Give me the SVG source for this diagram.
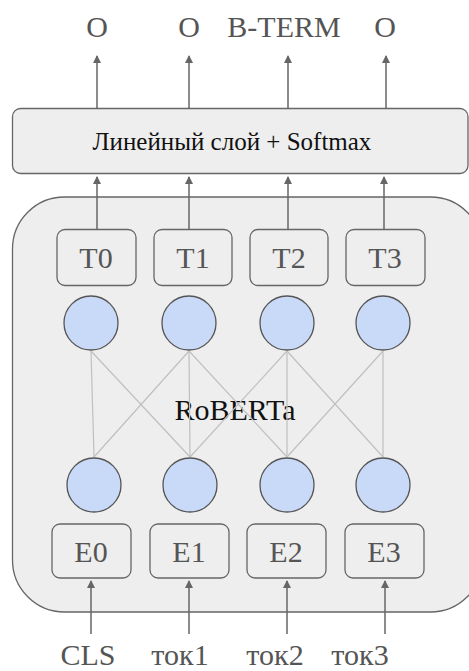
<svg xmlns="http://www.w3.org/2000/svg" width="469" height="671" viewBox="0 0 469 671">
<style>
.box{fill:#eeeeee;stroke:#666666;stroke-width:1.3}
.circ{fill:#c9daf8;stroke:#555555;stroke-width:1.3}
.arr{stroke:#666666;stroke-width:1.5;fill:none;marker-end:url(#ah)}
.net{stroke:#c0c0c0;stroke-width:1.2;fill:none}
text{font-family:'Liberation Serif','Times New Roman',serif}
</style>
<defs>
<marker id="ah" markerWidth="8" markerHeight="10" refX="7" refY="4" orient="auto" markerUnits="userSpaceOnUse" viewBox="0 0 8 8">
<path d="M0,0 L8,4 L0,8 Z" fill="#666666"/>
</marker>
</defs>
<rect width="469" height="671" fill="#ffffff"/>
<g id="roberta">
<rect class="box" x="12.5" y="197" width="470" height="415" rx="52"/>
<text x="235" y="420" font-size="30" fill="#111" text-anchor="middle">RoBERTa</text>
</g>
<g id="linear">
<rect class="box" x="12.5" y="108.5" width="455.5" height="65" rx="8"/>
<text x="232" y="150" font-size="25" fill="#111" text-anchor="middle">Линейный слой + Softmax</text>
</g>
<g id="connectors">
<line class="arr" x1="97" y1="108" x2="97" y2="56"/>
<line class="arr" x1="189" y1="108" x2="189" y2="56"/>
<line class="arr" x1="288" y1="108" x2="288" y2="56"/>
<line class="arr" x1="386" y1="108" x2="386" y2="56"/>
<line class="arr" x1="97" y1="229" x2="97" y2="177"/>
<line class="arr" x1="189" y1="229" x2="189" y2="177"/>
<line class="arr" x1="288" y1="229" x2="288" y2="177"/>
<line class="arr" x1="384" y1="229" x2="384" y2="177"/>
<line class="arr" x1="91" y1="634" x2="91" y2="581"/>
<line class="arr" x1="189" y1="634" x2="189" y2="581"/>
<line class="arr" x1="287" y1="634" x2="287" y2="581"/>
<line class="arr" x1="385" y1="634" x2="385" y2="581"/>
<g id="net">
<line class="net" x1="91" y1="351" x2="94" y2="457"/>
<line class="net" x1="189" y1="351" x2="190" y2="457"/>
<line class="net" x1="287" y1="351" x2="287" y2="457"/>
<line class="net" x1="383" y1="351" x2="383" y2="457"/>
<line class="net" x1="91" y1="351" x2="190" y2="457"/>
<line class="net" x1="189" y1="351" x2="94" y2="457"/>
<line class="net" x1="189" y1="351" x2="287" y2="457"/>
<line class="net" x1="287" y1="351" x2="190" y2="457"/>
<line class="net" x1="287" y1="351" x2="383" y2="457"/>
<line class="net" x1="383" y1="351" x2="287" y2="457"/>
</g>
</g>
<g id="outputs" fill="#555555" text-anchor="middle" font-size="30">
<text x="97" y="37">O</text>
<text x="189" y="37">O</text>
<text x="284" y="37">B-TERM</text>
<text x="385" y="37">O</text>
</g>
<g fill="#555555" text-anchor="middle" font-size="30">
<g id="T0"><rect class="box" x="57" y="229.5" width="79" height="56" rx="8"/><text x="96" y="268">T0</text></g>
<g id="T1"><rect class="box" x="154" y="229.5" width="78" height="56" rx="8"/><text x="193" y="268">T1</text></g>
<g id="T2"><rect class="box" x="250" y="229.5" width="78" height="56" rx="8"/><text x="289" y="268">T2</text></g>
<g id="T3"><rect class="box" x="346" y="229.5" width="79" height="56" rx="8"/><text x="385" y="268">T3</text></g>
<g id="E0"><rect class="box" x="52" y="524" width="79" height="54" rx="8"/><text x="91" y="562">E0</text></g>
<g id="E1"><rect class="box" x="150" y="524" width="79" height="54" rx="8"/><text x="189" y="562">E1</text></g>
<g id="E2"><rect class="box" x="247" y="524" width="79" height="54" rx="8"/><text x="286" y="562">E2</text></g>
<g id="E3"><rect class="box" x="345" y="524" width="79" height="54" rx="8"/><text x="384" y="562">E3</text></g>
</g>
<g id="h0"><circle class="circ" cx="91" cy="323" r="27"/></g>
<g id="h1"><circle class="circ" cx="189" cy="323" r="27"/></g>
<g id="h2"><circle class="circ" cx="287" cy="323" r="27"/></g>
<g id="h3"><circle class="circ" cx="383" cy="323" r="27"/></g>
<g id="i0"><circle class="circ" cx="94" cy="485" r="27"/></g>
<g id="i1"><circle class="circ" cx="190" cy="485" r="27"/></g>
<g id="i2"><circle class="circ" cx="287" cy="485" r="27"/></g>
<g id="i3"><circle class="circ" cx="383" cy="485" r="27"/></g>
<g id="inputs" fill="#555555" text-anchor="middle" font-size="30">
<text x="88" y="665">CLS</text>
<text x="180" y="665">ток1</text>
<text x="275" y="665">ток2</text>
<text x="360" y="665">ток3</text>
</g>
</svg>
